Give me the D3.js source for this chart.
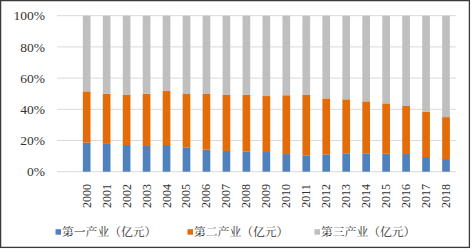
<!DOCTYPE html>
<html>
<head>
<meta charset="utf-8">
<script src="https://cdn.jsdelivr.net/npm/d3@7"></script>
<style>
  body { margin: 0; background: #fff; }
  text { font-family: "Liberation Serif", "Noto Serif CJK SC", "Noto Sans CJK SC", serif; fill: #333; }
</style>
</head>
<body>
<svg id="chart"></svg>
<script>
// Share of each sector (%)
const years = ["2000","2001","2002","2003","2004","2005","2006","2007","2008","2009",
               "2010","2011","2012","2013","2014","2015","2016","2017","2018"];
const primary   = [18.6, 17.8, 17.1, 16.5, 17.1, 15.6, 14.1, 13.3, 12.8, 12.6, 11.3, 10.5, 11.1, 11.8, 11.8, 11.5, 11.3, 9.4, 8.1];
const secondary = [32.9, 32.2, 32.1, 33.5, 34.6, 34.2, 35.7, 35.9, 36.4, 35.9, 37.7, 38.7, 35.9, 34.6, 33.3, 32.3, 30.8, 29.1, 26.9];
const tertiary  = [48.5, 50.0, 50.8, 50.0, 48.3, 50.2, 50.2, 50.8, 50.8, 51.5, 51.0, 50.8, 53.0, 53.6, 54.9, 56.2, 57.9, 61.5, 65.0];
const seriesNames = ["第一产业（亿元）", "第二产业（亿元）", "第三产业（亿元）"];
const yTicks = [0, 20, 40, 60, 80, 100];

const width = 472, height = 252;
const colors = ["#4f81bd", "#e36c09", "#bfbfbf"];

const svg = d3.select("#chart").attr("width", width).attr("height", height);

// outer frame
svg.append("rect")
    .attr("x", 0.6).attr("y", 0.6)
    .attr("width", 468.8).attr("height", 246.8)
    .attr("fill", "none")
    .attr("stroke", "#3a3a3a")
    .attr("stroke-width", 1.3);

const x = d3.scaleBand()
    .domain(years)
    .range([76.7, 456])
    .paddingInner(0.615)
    .paddingOuter(0.3075);

const y = d3.scaleLinear()
    .domain([0, 100])
    .range([171.7, 15.7]);

// gridlines
svg.append("g")
    .selectAll("line")
    .data(yTicks)
    .enter()
    .append("line")
    .attr("x1", 57).attr("x2", 456)
    .attr("y1", d => y(d)).attr("y2", d => y(d))
    .attr("stroke", "#d9d9d9")
    .attr("stroke-width", 1);

// y labels
svg.append("g")
    .selectAll("text")
    .data(yTicks)
    .enter()
    .append("text")
    .attr("x", 45)
    .attr("y", d => y(d))
    .attr("dy", "0.35em")
    .attr("text-anchor", "end")
    .style("font-size", "13.5px")
    .text(d => d + "%");

// stacked bars
const rows = years.map((yr, i) => ({ year: yr, a: primary[i], b: secondary[i], c: tertiary[i] }));
const stack = d3.stack().keys(["a", "b", "c"])(rows);

svg.append("g")
    .selectAll("g")
    .data(stack)
    .enter()
    .append("g")
    .attr("fill", (d, i) => colors[i])
    .selectAll("rect")
    .data(d => d)
    .enter()
    .append("rect")
    .attr("x", d => x(d.data.year))
    .attr("width", x.bandwidth())
    .attr("y", d => y(d[1]))
    .attr("height", d => y(d[0]) - y(d[1]));

// x labels, rotated
svg.append("g")
    .selectAll("text")
    .data(years)
    .enter()
    .append("text")
    .attr("transform", d => `translate(${x(d) + x.bandwidth() / 2 + 4},196) rotate(-90)`)
    .attr("text-anchor", "middle")
    .style("font-size", "12px")
    .text(d => d);

// legend
const legendX = [62, 194, 321];
const legend = svg.append("g")
    .selectAll("g")
    .data(seriesNames)
    .enter()
    .append("g")
    .attr("transform", (d, i) => `translate(${legendX[i]},232)`);

legend.append("rect")
    .attr("x", -6.5).attr("y", -2.8)
    .attr("width", 5.5).attr("height", 5.5)
    .attr("fill", (d, i) => colors[i]);

legend.append("text")
    .attr("x", 0)
    .attr("dy", "0.36em")
    .style("font-size", "11.8px")
    .text(d => d);
</script>
</body>
</html>
